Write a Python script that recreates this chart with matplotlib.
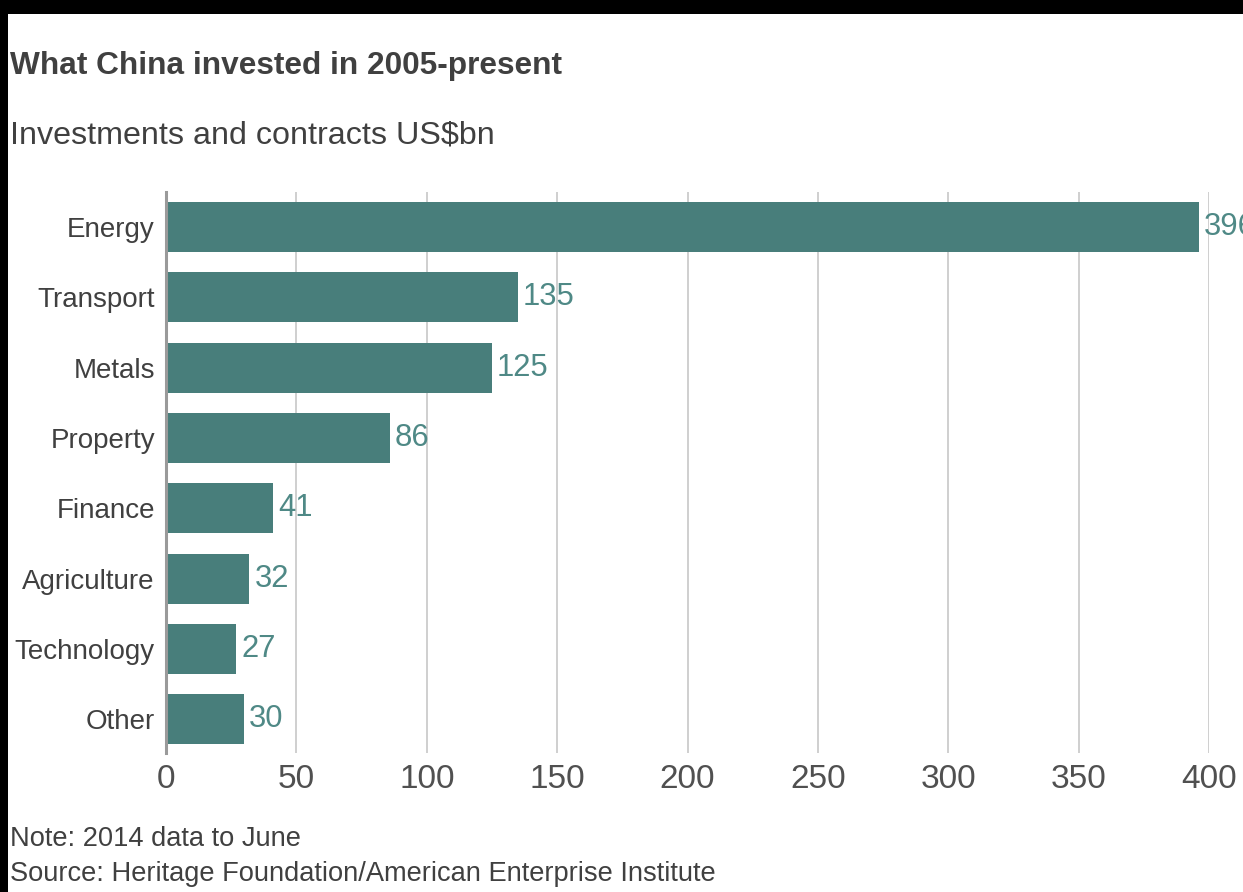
import matplotlib
matplotlib.use("Agg")
import matplotlib.pyplot as plt
from matplotlib.patches import Rectangle

plt.rcParams["font.family"] = ["Liberation Sans", "DejaVu Sans"]

# Investments and contracts by sector, US$bn
sectors = ["Energy", "Transport", "Metals", "Property",
           "Finance", "Agriculture", "Technology", "Other"]
values = [396, 135, 125, 86, 41, 32, 27, 30]
x_ticks = [0, 50, 100, 150, 200, 250, 300, 350, 400]

BAR = "#487e7b"
LABEL = "#4f8986"
TEXT = "#404040"
TICK = "#505050"
GRID = "#cfcfcf"

W, H = 1243, 892
fig = plt.figure(figsize=(W / 100, H / 100), dpi=100)
fig.patch.set_facecolor("white")

def fx(px):
    return px / W

def fy(py):
    return 1 - py / H

ax = fig.add_axes([fx(166), fy(753), fx(1209) - fx(166), fy(192) - fy(753)])
ypos = list(range(len(sectors)))
ax.barh(ypos, values, height=0.71, color=BAR, zorder=3)
ax.set_xlim(0, 400)
ax.set_ylim(len(sectors) - 0.52, -0.5)

ax.set_xticks(x_ticks)
ax.set_xticklabels([str(t) for t in x_ticks])
ax.set_yticks(ypos)
ax.set_yticklabels(sectors)
ax.tick_params(axis="x", length=0, pad=8, labelsize=24, labelcolor=TICK)
ax.tick_params(axis="y", length=0, pad=8, labelsize=20, labelcolor=TEXT)

ax.grid(axis="x", color=GRID, linewidth=1.4, zorder=0)
ax.grid(axis="y", visible=False)
for side in ["top", "right", "bottom"]:
    ax.spines[side].set_visible(False)
ax.spines["left"].set_color("#9a9a9a")
ax.spines["left"].set_linewidth(2.2)
ax.spines["left"].set_zorder(4)

for y, v in zip(ypos, values):
    ax.annotate(str(v), xy=(v, y), xytext=(3.5, 0), textcoords="offset points",
                ha="left", va="center", fontsize=22.3, color=LABEL,
                annotation_clip=False)

fig.text(fx(10), fy(74), "What China invested in 2005-present",
         fontsize=22.8, fontweight="bold", color=TEXT, ha="left", va="baseline")
fig.text(fx(10), fy(143), "Investments and contracts US$bn",
         fontsize=23.2, color=TEXT, ha="left", va="baseline")
fig.text(fx(10), fy(846), "Note: 2014 data to June",
         fontsize=19.6, color=TEXT, ha="left", va="baseline")
fig.text(fx(10), fy(881), "Source: Heritage Foundation/American Enterprise Institute",
         fontsize=19.6, color=TEXT, ha="left", va="baseline")

# dark frame along the top and left edges
fig.patches.append(Rectangle((0, fy(14)), 1, 1 - fy(14), transform=fig.transFigure,
                             facecolor="black", edgecolor="none", zorder=10))
fig.patches.append(Rectangle((0, 0), fx(8), 1, transform=fig.transFigure,
                             facecolor="black", edgecolor="none", zorder=10))

fig.savefig("out.png", dpi=100)
